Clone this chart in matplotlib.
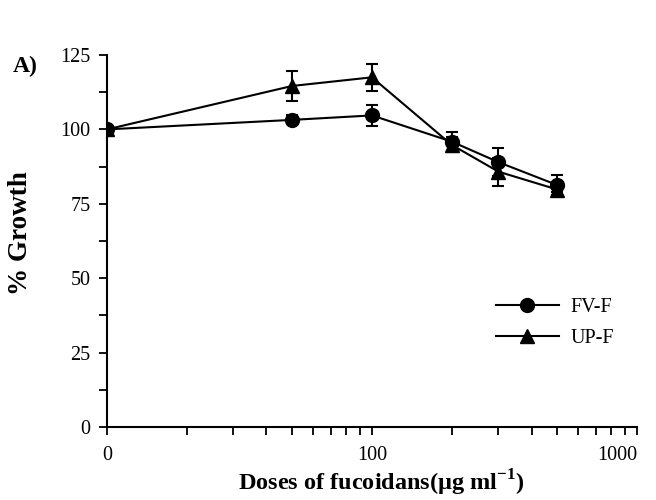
import numpy as np
import matplotlib
matplotlib.use("Agg")
import matplotlib.pyplot as plt
from matplotlib.lines import Line2D
from matplotlib.ticker import FixedLocator, FixedFormatter, LogLocator, NullFormatter, MultipleLocator

plt.rcParams['font.family'] = ['Liberation Serif', 'DejaVu Serif']
plt.rcParams['mathtext.fontset'] = 'custom'
plt.rcParams['mathtext.rm'] = 'Liberation Serif'
plt.rcParams['mathtext.bf'] = 'Liberation Serif:bold'

# doses (ug/ml); dose 0 is drawn at the 10 position of the log axis
doses = [0, 50, 100, 200, 300, 500]
fvf = [100, 103.2, 104.7, 95.9, 89.0, 81.3]
fvf_err = [1.0, 1.5, 3.6, 3.3, 4.8, 3.4]
upf = [100, 114.6, 117.5, 94.8, 85.8, 79.8]
upf_err = [1.0, 5.0, 4.5, 2.5, 4.7, 1.0]

xpos = [10 if d == 0 else d for d in doses]

fig = plt.figure(figsize=(6.56, 5.0), dpi=100)
ax = fig.add_axes([0.163, 0.146, 0.808, 0.744])

ax.errorbar(xpos, fvf, yerr=fvf_err, color='black', marker='o', markersize=10,
            linewidth=1.5, capsize=4, elinewidth=1.5, capthick=1.5, zorder=3)
ax.errorbar(xpos, upf, yerr=upf_err, color='black', marker='^', markersize=10,
            linewidth=1.5, capsize=4, elinewidth=1.5, capthick=1.5, zorder=3)

ax.set_xscale('log')
ax.set_xlim(10, 1000)
ax.set_ylim(0, 125)
ax.xaxis.set_major_locator(FixedLocator([10, 100, 1000]))
ax.xaxis.set_major_formatter(FixedFormatter(['0', '100', '1000']))
ax.xaxis.set_minor_locator(LogLocator(base=10, subs=np.arange(2, 10)))
ax.xaxis.set_minor_formatter(NullFormatter())
ax.yaxis.set_major_locator(MultipleLocator(25))
ax.yaxis.set_minor_locator(MultipleLocator(12.5))

for s in ['top', 'right']:
    ax.spines[s].set_visible(False)
for s in ['left', 'bottom']:
    ax.spines[s].set_linewidth(1.5)
ax.tick_params(which='both', direction='out', width=1.3, length=6, labelsize=14.5)
ax.tick_params(axis='x', pad=8)
ax.tick_params(axis='y', pad=6)
for lbl in ax.get_xticklabels():
    if lbl.get_text() == '1000':
        lbl.set_horizontalalignment('right')

ax.set_ylabel('% Growth', fontsize=19.5, fontweight='bold')
ax.yaxis.set_label_coords(-0.14, 0.52)
ax.set_xlabel(r'Doses of fucoidans(μg ml$^{\mathbf{-1}}$)', fontsize=17.5, fontweight='bold')
ax.xaxis.set_label_coords(0.517, -0.11)

handles = [Line2D([], [], color='black', marker='o', markersize=10, linewidth=1.5),
           Line2D([], [], color='black', marker='^', markersize=10, linewidth=1.5)]
ax.legend(handles, ['FV-F', 'UP-F'], loc='center left', bbox_to_anchor=(0.70, 0.28),
          frameon=False, fontsize=14.5, handlelength=3.1, handletextpad=0.6,
          labelspacing=0.6)

fig.text(0.02, 0.855, 'A)', fontsize=17, fontweight='bold')

fig.savefig('out.png', dpi=100)
